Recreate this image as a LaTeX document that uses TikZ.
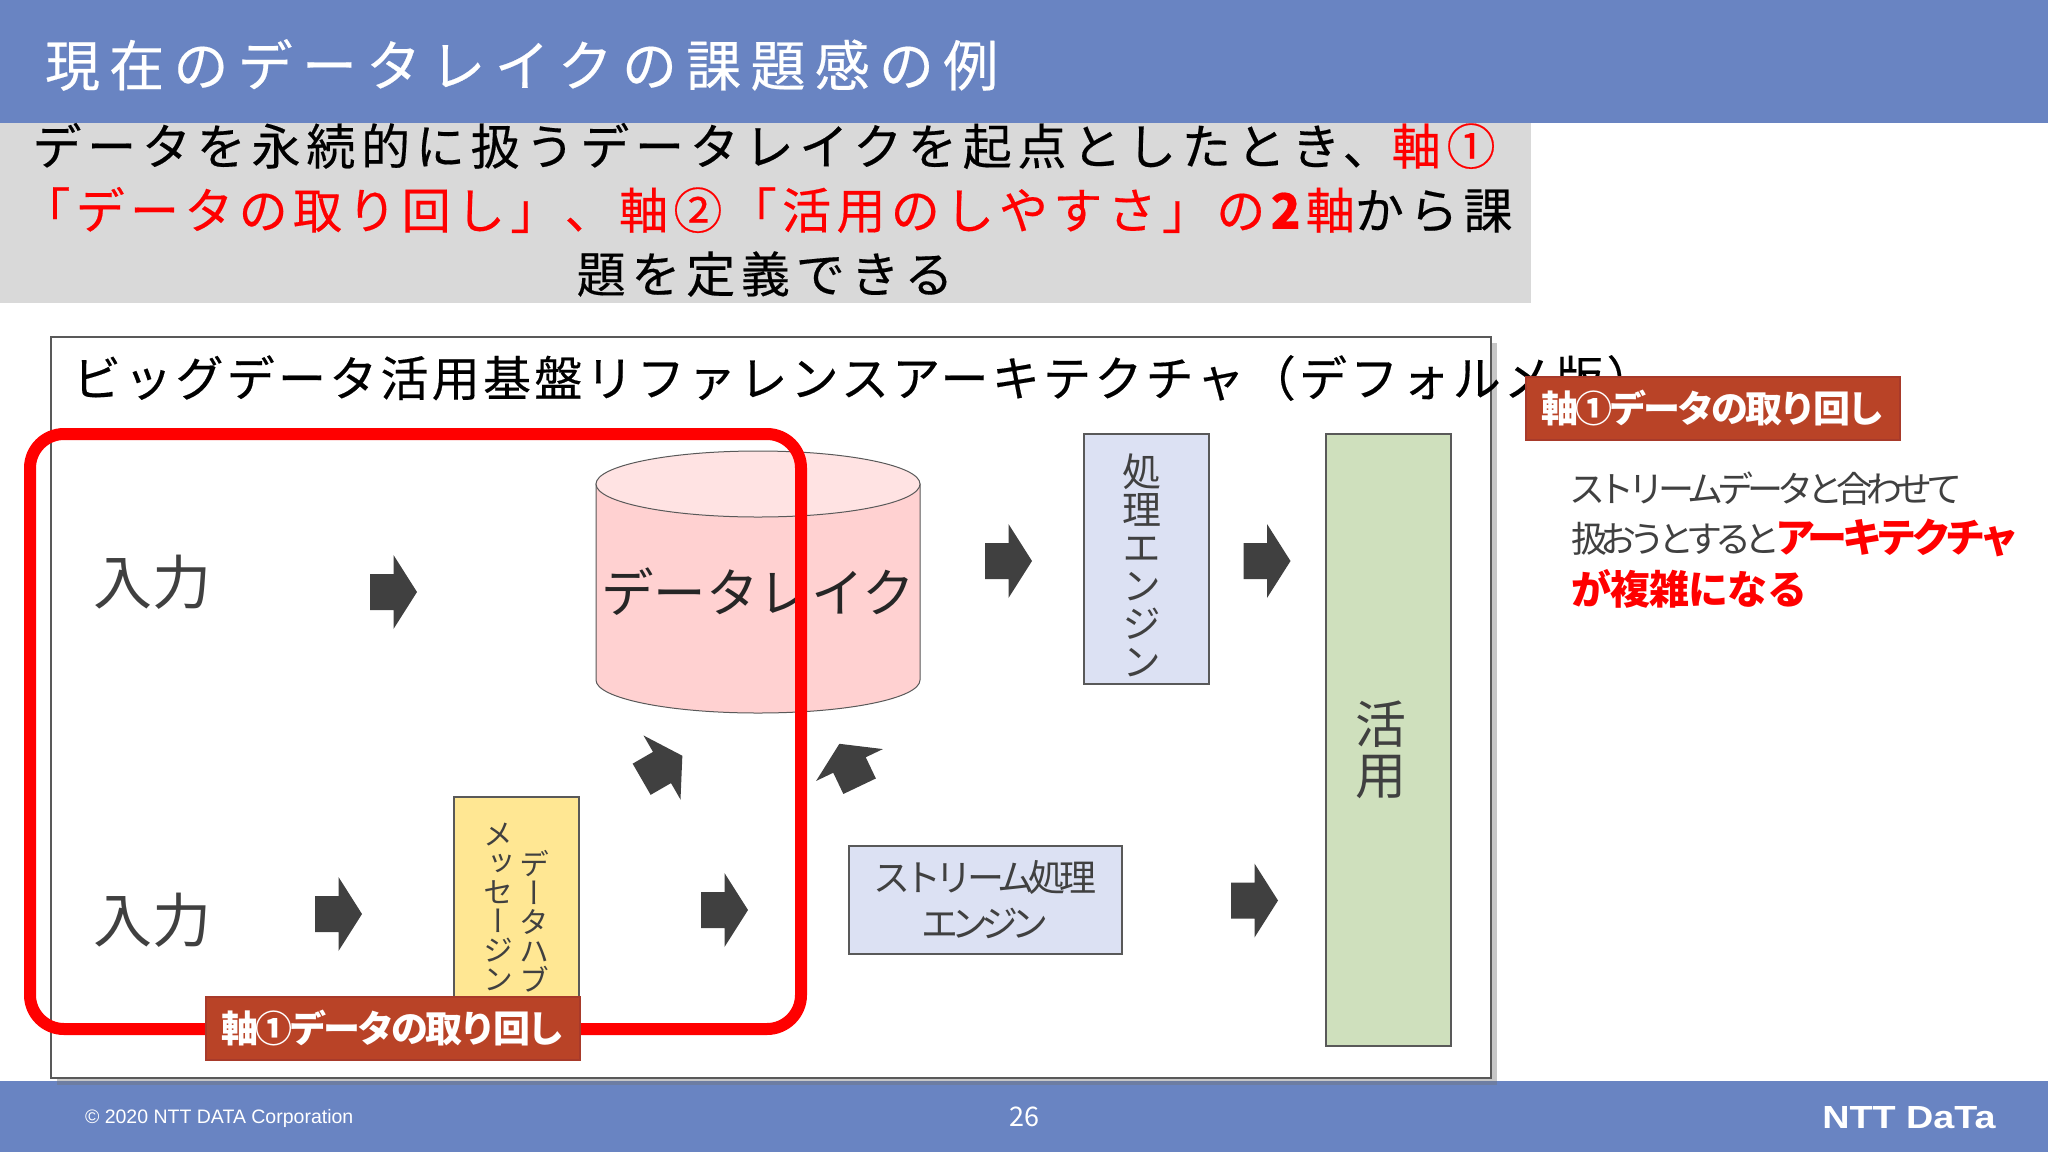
\documentclass[tikz,border=0pt]{standalone}
\usepackage{fontspec}
\usetikzlibrary{shapes.geometric}
\setmainfont{Noto Sans CJK JP}
\newfontfamily\vf[RawFeature=+vert]{Noto Sans CJK JP}
\newfontfamily\lib{Liberation Sans}
\newcommand{\fs}[2]{\fontsize{#1}{#1}\selectfont\addfontfeature{LetterSpace=#2}}
\newcommand{\fsb}[2]{\fontsize{#1}{#1}\selectfont\addfontfeature{LetterSpace=#2,FakeBold=0.35}}
\definecolor{barblue}{HTML}{6984C2}
\definecolor{subgray}{HTML}{D9D9D9}
\definecolor{ink}{HTML}{404040}
\definecolor{tagred}{HTML}{B94327}
\definecolor{tagedge}{HTML}{A83A2A}
\definecolor{engfill}{HTML}{DCE1F3}
\definecolor{hubfill}{HTML}{FFE793}
\definecolor{usefill}{HTML}{CFE0BD}
\definecolor{lakefill}{HTML}{FFD1D1}
\definecolor{laketop}{HTML}{FFE3E3}
\definecolor{edge}{HTML}{595959}
\tikzset{
  plain/.style={inner sep=0pt,outer sep=0pt},
  boxed/.style={plain,draw=edge,line width=1.3pt,anchor=north west},
  axistag/.style={plain,anchor=north west,fill=tagred,draw=tagedge,line width=1.3pt,minimum width=374pt,minimum height=63pt,text=white,font=\bfseries\fs{37}{-8}},
  blockarrow/.pic={\fill[ink] (-23.5,-18)--(0,-18)--(0,-37)--(23.5,0)--(0,37)--(0,18)--(-23.5,18)--cycle;},
  vtxt/.style={plain,text=ink,align=center,font=\vf\fontsize{30}{29}\selectfont}
}
\begin{document}
\begin{tikzpicture}[x=1pt,y=-1pt]
\useasboundingbox (0,0) rectangle (2048,1152);
\fill[white] (0,0) rectangle (2048,1152);
\fill[barblue] (0,0) rectangle (2048,123);
\fill[barblue] (0,1081) rectangle (2048,1152);
\fill[subgray] (0,123) rectangle (1531,303);
% header
\node[plain,anchor=west,text=white,font=\fsb{55}{16.8}] (title) at (45,65) {現在のデータレイクの課題感の例};
\node[plain,font=\fsb{49}{11.8}] (sub1) at (764,146) {データを永続的に扱うデータレイクを起点としたとき、\textcolor{red}{軸①}};
\node[plain,font=\fsb{49}{10.9}] (sub2) at (767,210) {\textcolor{red}{「データの取り回し」、軸②「活用のしやすさ」の\textbf{2}軸}から課};
\node[plain,font=\fsb{49}{11.8}] (sub3) at (765,274) {題を定義できる};
% main panel
\fill[black!55,opacity=.4] (57,343) rectangle (1497,1085);
\node[plain,draw=edge,line width=1.3pt,fill=white,anchor=north west,minimum width=1440pt,minimum height=741pt] (panel) at (51,337) {};
\node[plain,anchor=west,font=\fsb{48}{6.8}] (ptitle) at (73,378) {ビッグデータ活用基盤リファレンスアーキテクチャ（デフォルメ版）};
% inputs
\node[plain,text=ink,font=\fs{59}{0}] (in1) at (152,582) {入力};
\node[plain,text=ink,font=\fs{59}{0}] (in2) at (152,920) {入力};
% data lake
\fill[lakefill,draw=edge,line width=1pt] (596,484) -- (596,680) .. controls (596,698.2) and (668.5,713) .. (758,713) .. controls (847.5,713) and (920,698.2) .. (920,680) -- (920,484) -- cycle;
\node[plain,ellipse,fill=laketop,draw=edge,line width=1pt,minimum width=324pt,minimum height=66pt] (laketopnode) at (758,484) {};
\node[plain,font=\fs{52.5}{0},text=black!85] (lake) at (758,592) {データレイク};
% boxes
\node[boxed,fill=engfill,minimum width=125pt,minimum height=250pt] (proc) at (1084,434) {};
\node[vtxt,font=\vf\fontsize{39}{38}\selectfont] (proctxt) at (1142,565) {処\\理\\エ\\ン\\ジ\\ン};
\node[boxed,fill=usefill,minimum width=125pt,minimum height=612pt] (use) at (1326,434) {};
\node[vtxt,font=\vf\fontsize{51}{51}\selectfont] (usetxt) at (1381,750) {活\\用};
\node[boxed,fill=hubfill,minimum width=125pt,minimum height=240pt] (hub) at (454,797) {};
\node[vtxt] (hubr) at (534,921) {デ\\ー\\タ\\ハ\\ブ};
\node[vtxt] (hubl) at (498,907) {メ\\ッ\\セ\\ー\\ジ\\ン};
\node[boxed,fill=engfill,minimum width=273pt,minimum height=108pt] (stream) at (849,846) {};
\node[plain,text=ink,font=\fs{37}{-16}] (st1) at (985,877) {ストリーム処理};
\node[plain,text=ink,font=\fs{37}{-19}] (st2) at (985,923) {エンジン};
% block arrows
\pic (a1) at (393.5,592) {blockarrow};
\pic (a2) at (1008.5,561) {blockarrow};
\pic (a3) at (1267,561) {blockarrow};
\pic (a4) at (338.5,914) {blockarrow};
\pic (a5) at (724.5,910) {blockarrow};
\pic (a6) at (1254.5,900.5) {blockarrow};
\pic[rotate=30] (a7) at (662,767.5) {blockarrow};
\pic[rotate=115.5] (a8) at (849.5,765) {blockarrow};
% red frame
\draw[red,line width=12pt,rounded corners=34pt] (30,434) rectangle (801,1029);
\node[axistag] (tag1) at (206,997) {軸①データの取り回し};
% right column
\node[axistag] (tag2) at (1526,377) {軸①データの取り回し};
\node[plain,anchor=west,text=ink,font=\fs{36}{-17}] (r1) at (1569,489) {ストリームデータと合わせて};
\node[plain,anchor=west,text=ink,font=\fs{36}{-19}] (r2) at (1571,538) {扱おうとすると\hspace*{-5pt}\textcolor{red}{\bfseries\addfontfeature{LetterSpace=-14}\fontsize{40}{40}\selectfont アーキテクチャ}};
\node[plain,anchor=west,text=red,font=\bfseries\fs{40}{-2}] (r3) at (1571,589) {が複雑になる};
% footer
\node[plain,anchor=west,text=white,font=\lib\fontsize{19.5}{20}\selectfont] (copy) at (85,1118) {© 2020 NTT DATA Corporation};
\node[plain,text=white,font=\fs{27}{0}] (page) at (1024,1117) {26};
\node[plain,text=white,font=\lib\bfseries\fontsize{32}{32}\selectfont,xscale=1.18,transform shape,anchor=center] (logo) at (1909,1118) {NTT DaTa};
\end{tikzpicture}
\end{document}
